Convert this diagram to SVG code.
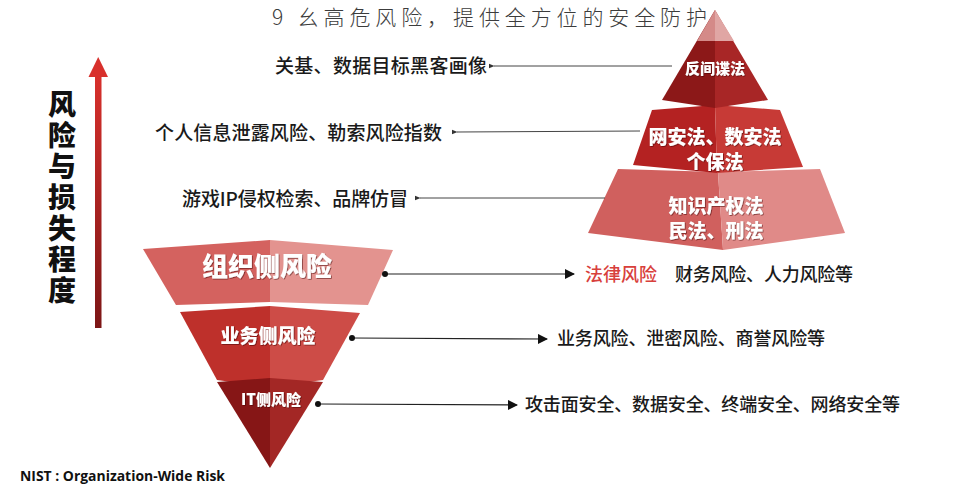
<svg xmlns="http://www.w3.org/2000/svg" width="976" height="500" viewBox="0 0 976 500">
<defs>
<linearGradient id="arrowGrad" x1="0" y1="0" x2="0" y2="1">
<stop offset="0" stop-color="#d8302c"/>
<stop offset="1" stop-color="#7c1616"/>
</linearGradient>
<filter id="ts" x="-10%" y="-20%" width="120%" height="140%">
<feDropShadow dx="0.8" dy="0.8" stdDeviation="0.6" flood-color="#3a0000" flood-opacity="0.6"/>
</filter>
<marker id="headL" viewBox="0 0 10 10" refX="1" refY="5" markerWidth="6" markerHeight="6" orient="auto-start-reverse" markerUnits="userSpaceOnUse">
<path d="M0,5 L10,1 L10,9 Z" fill="#333"/>
</marker>
<marker id="headR" viewBox="0 0 10 10" refX="9" refY="5" markerWidth="10" markerHeight="10" orient="auto" markerUnits="userSpaceOnUse">
<path d="M0,0 L10,5 L0,10 Z" fill="#111"/>
</marker>
<marker id="dot" viewBox="0 0 10 10" refX="5" refY="5" markerWidth="6" markerHeight="6" markerUnits="userSpaceOnUse">
<circle cx="5" cy="5" r="5" fill="#111"/>
</marker>
</defs>
<style>
.lbl{font-family:"Noto Sans CJK SC","Noto Sans",sans-serif;font-weight:500;fill:#1a1a1a;}
.pl{font-family:"Noto Sans CJK SC","Noto Sans",sans-serif;font-weight:900;fill:#ffffff;text-anchor:middle;filter:url(#ts);}
.up{stroke:#444;stroke-width:1;fill:none;marker-start:url(#headL);}
.dn{stroke:#222;stroke-width:1.2;fill:none;marker-start:url(#dot);marker-end:url(#headR);}
</style>
<rect width="976" height="500" fill="#ffffff"/>

<text x="272" y="25" font-family="'Noto Sans CJK SC','Noto Sans',sans-serif" font-weight="300" font-size="21" fill="#3c3c3c" textLength="435" lengthAdjust="spacing">9 幺高危风险，提供全方位的安全防护</text>

<g id="risk-axis">
<rect x="95" y="74" width="6.5" height="254" fill="url(#arrowGrad)"/>
<polygon points="98.2,57 88.5,77 108,77" fill="#d8302c"/>
<text x="62" y="90" style="writing-mode:vertical-rl" font-family="'Noto Sans CJK SC',sans-serif" font-weight="900" font-size="28" letter-spacing="3" fill="#111">风险与损失程度</text>
</g>

<g id="law-tier3">
<polygon points="618,169 718,172 723,250 588,233" fill="#d0605e"/>
<polygon points="718,172 820,169 845,233 723,250" fill="#e08a88"/>
<text class="pl" x="716" y="213" font-size="19">知识产权法</text>
<text class="pl" x="716" y="238" font-size="19">民法、刑法</text>
</g>
<g id="law-tier2">
<polygon points="652,110 715,105 717,173 633,165" fill="#b42222"/>
<polygon points="715,105 780,110 803,167 717,173" fill="#c73a36"/>
<text class="pl" x="715" y="144" font-size="19">网安法、数安法</text>
<text class="pl" x="715" y="169" font-size="19">个保法</text>
</g>
<g id="law-tier1">
<polygon points="715,10 662,100 715,108" fill="#8c1818"/>
<polygon points="715,10 715,108 768,100" fill="#a82626"/>
<polygon points="715,10 697,41 715,41" fill="#d48a88"/>
<polygon points="715,10 715,41 734,41" fill="#e0a6a4"/>
<text class="pl" x="715" y="74" font-size="15">反间谍法</text>
</g>

<g id="org-risk">
<polygon points="143,249 270,240 270,302 176,305" fill="#d4625f"/>
<polygon points="270,240 393,250 368,305 270,302" fill="#e3938f"/>
<text class="pl" x="267" y="276" font-size="26">组织侧风险</text>
</g>
<g id="biz-risk">
<polygon points="180,312 270,306 270,387 217,380" fill="#be302b"/>
<polygon points="270,306 360,313 323,380 270,387" fill="#cd4c47"/>
<text class="pl" x="268" y="343" font-size="19">业务侧风险</text>
</g>
<g id="it-risk">
<polygon points="217,382 270,378 270,468" fill="#861616"/>
<polygon points="270,378 323,382 270,468" fill="#a32725"/>
<text class="pl" x="271" y="405" font-size="15">IT侧风险</text>
</g>

<g id="connectors">
<line class="up" x1="494" y1="66" x2="672" y2="66"/>
<line class="up" x1="457" y1="132" x2="640" y2="131"/>
<line class="up" x1="420" y1="198" x2="605" y2="198"/>
<line class="dn" x1="385" y1="274" x2="574" y2="274"/>
<line class="dn" x1="352" y1="338" x2="547" y2="339"/>
<line class="dn" x1="318" y1="404" x2="517" y2="405"/>
</g>

<g id="labels">
<text class="lbl" x="275" y="73" font-size="19" textLength="212" lengthAdjust="spacing">关基、数据目标黑客画像</text>
<text class="lbl" x="155" y="140" font-size="19" textLength="287" lengthAdjust="spacing">个人信息泄露风险、勒索风险指数</text>
<text class="lbl" x="182" y="206" font-size="19" textLength="226" lengthAdjust="spacing">游戏IP侵权检索、品牌仿冒</text>
<text class="lbl" x="585" y="281" font-size="18" style="fill:#d8403b" textLength="72" lengthAdjust="spacing">法律风险</text>
<text class="lbl" x="675" y="281" font-size="18" textLength="178" lengthAdjust="spacing">财务风险、人力风险等</text>
<text class="lbl" x="557" y="345" font-size="18" textLength="268" lengthAdjust="spacing">业务风险、泄密风险、商誉风险等</text>
<text class="lbl" x="525" y="411" font-size="18" textLength="375" lengthAdjust="spacing">攻击面安全、数据安全、终端安全、网络安全等</text>
<text x="20" y="481" font-family="'Open Sans','Noto Sans',sans-serif" font-weight="700" font-size="15" fill="#111" textLength="205" lengthAdjust="spacingAndGlyphs">NIST : Organization-Wide Risk</text>
</g>
</svg>
